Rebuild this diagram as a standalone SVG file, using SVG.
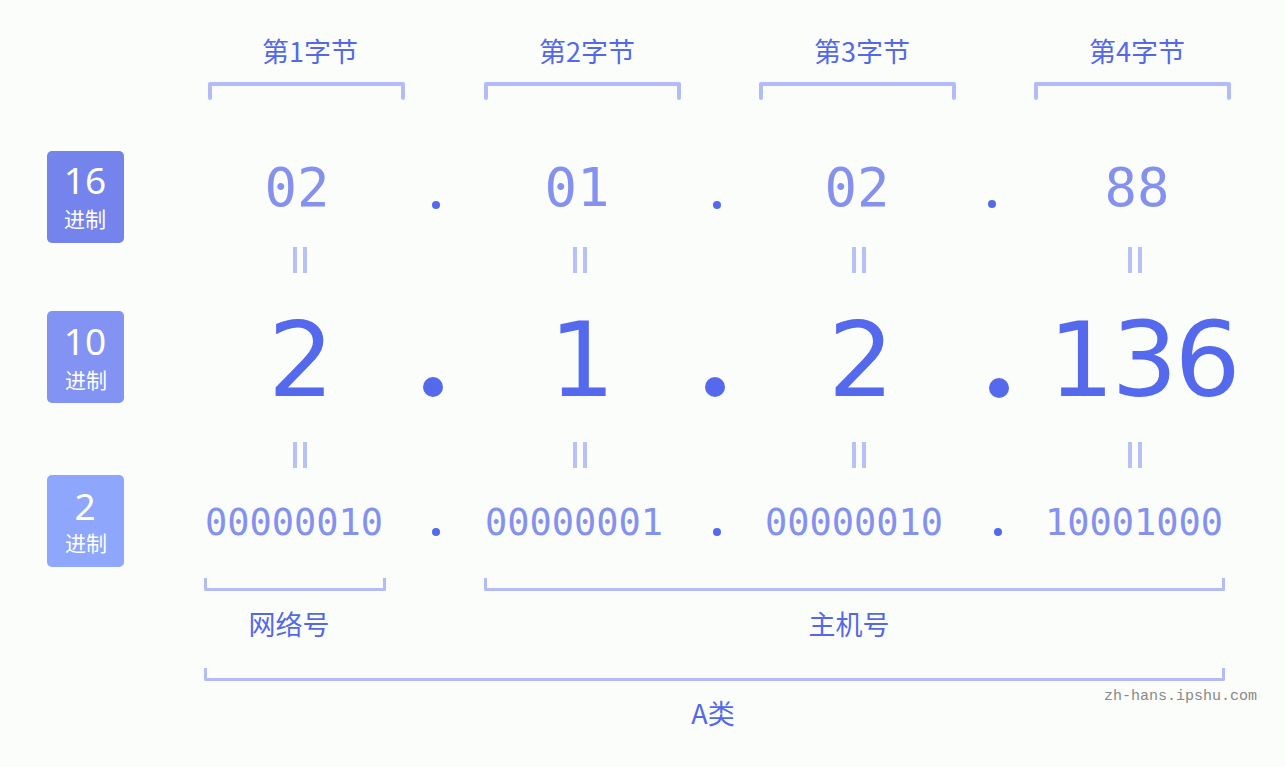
<svg xmlns="http://www.w3.org/2000/svg" width="1285" height="767" viewBox="0 0 1285 767">
<style>
.lbl{font-family:"Noto Sans CJK SC","Noto Sans",sans-serif;font-size:27px;fill:#5468e8;text-anchor:middle}
.br{fill:none;stroke:#b3bcf8;stroke-width:4;stroke-linecap:round;stroke-linejoin:round}
.brb{fill:none;stroke:#b3bcf8;stroke-width:3;stroke-linejoin:round}
.bn{font-family:"Noto Sans","Noto Sans CJK SC",sans-serif;font-size:37px;fill:#ffffff;text-anchor:middle}
.bz{font-family:"Noto Sans CJK SC",sans-serif;font-size:21px;fill:#ffffff;text-anchor:middle}
.hex{font-family:"DejaVu Sans Mono",monospace;font-size:54px;fill:#8591ef;text-anchor:middle}
.bin{font-family:"DejaVu Sans Mono",monospace;font-size:37px;fill:#8591ef;text-anchor:middle}
.dec{font-family:"DejaVu Sans",sans-serif;font-size:104px;fill:#5469ec;text-anchor:middle}
.dot{fill:#5469ec}
.eq{fill:#b7c1f5}
.wm{font-family:"Liberation Mono",monospace;font-size:15px;fill:#888888;text-anchor:end}
</style>
<rect width="1285" height="767" fill="#fbfdfb"/>
<g id="bytes">
<text class="lbl" x="310" y="62">第1字节</text>
<text class="lbl" x="587" y="62">第2字节</text>
<text class="lbl" x="862" y="62">第3字节</text>
<text class="lbl" x="1137" y="62">第4字节</text>
<path class="br" d="M210,98 V84 H403 V98"/>
<path class="br" d="M486,98 V84 H679 V98"/>
<path class="br" d="M761,98 V84 H954 V98"/>
<path class="br" d="M1036,98 V84 H1229 V98"/>
</g>
<g id="badge16">
<rect x="47" y="151" width="77" height="92" rx="5" fill="#7584ec"/>
<text class="bn" x="85" y="194">16</text>
<text class="bz" x="85" y="227">进制</text>
</g>
<g id="badge10">
<rect x="47" y="311" width="77" height="92" rx="5" fill="#8393f3"/>
<text class="bn" x="85" y="355">10</text>
<text class="bz" x="86" y="388">进制</text>
</g>
<g id="badge2">
<rect x="47" y="475" width="77" height="92" rx="5" fill="#8ea6fb"/>
<text class="bn" x="85" y="520">2</text>
<text class="bz" x="86" y="551">进制</text>
</g>
<g id="hex">
<text class="hex" x="297" y="206">02</text>
<text class="hex" x="577" y="206">01</text>
<text class="hex" x="857" y="206">02</text>
<text class="hex" x="1137" y="206">88</text>
<circle class="dot" cx="436" cy="205" r="4"/>
<circle class="dot" cx="717" cy="205" r="4"/>
<circle class="dot" cx="992" cy="204" r="4"/>
</g>
<g id="dec">
<text class="dec" x="301" y="396">2</text>
<text class="dec" x="582" y="396">1</text>
<text class="dec" x="861" y="396">2</text>
<text class="dec" x="1143" y="396" letter-spacing="-3">136</text>
<circle class="dot" cx="433" cy="387" r="10"/>
<circle class="dot" cx="715" cy="387" r="10"/>
<circle class="dot" cx="999" cy="388" r="10"/>
</g>
<g id="bin">
<text class="bin" x="294" y="535">00000010</text>
<text class="bin" x="574" y="535">00000001</text>
<text class="bin" x="854" y="535">00000010</text>
<text class="bin" x="1134" y="535">10001000</text>
<circle class="dot" cx="436" cy="532" r="4"/>
<circle class="dot" cx="717" cy="532" r="4"/>
<circle class="dot" cx="998" cy="532" r="4"/>
</g>
<g id="equals">
<rect class="eq" x="293" y="247" width="4" height="26"/><rect class="eq" x="303" y="247" width="4" height="26"/>
<rect class="eq" x="573" y="247" width="4" height="26"/><rect class="eq" x="583" y="247" width="4" height="26"/>
<rect class="eq" x="852" y="247" width="4" height="26"/><rect class="eq" x="862" y="247" width="4" height="26"/>
<rect class="eq" x="1128" y="247" width="4" height="26"/><rect class="eq" x="1138" y="247" width="4" height="26"/>
<rect class="eq" x="293" y="442" width="4" height="26"/><rect class="eq" x="303" y="442" width="4" height="26"/>
<rect class="eq" x="573" y="442" width="4" height="26"/><rect class="eq" x="583" y="442" width="4" height="26"/>
<rect class="eq" x="852" y="442" width="4" height="26"/><rect class="eq" x="862" y="442" width="4" height="26"/>
<rect class="eq" x="1128" y="442" width="4" height="26"/><rect class="eq" x="1138" y="442" width="4" height="26"/>
</g>
<g id="parts">
<path class="brb" d="M205.5,578 V589.5 H384.5 V578"/>
<text class="lbl" x="289" y="635">网络号</text>
<path class="brb" d="M485.5,578 V589.5 H1223.5 V578"/>
<text class="lbl" x="849" y="635">主机号</text>
<path class="brb" d="M205.5,668 V679.5 H1223.5 V668"/>
<text class="lbl" x="713" y="724">A类</text>
</g>
<text class="wm" x="1257" y="700">zh-hans.ipshu.com</text>
</svg>
